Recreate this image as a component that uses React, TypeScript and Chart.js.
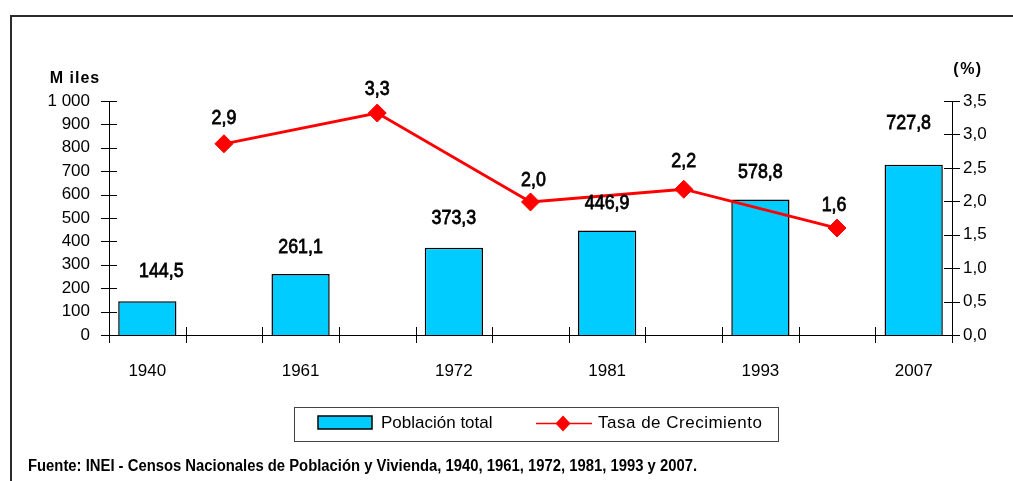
import React, { useEffect, useRef } from 'react';
import { Chart, registerables } from 'chart.js';

Chart.register(...registerables);

// ---- data ----
const years = ['1940', '1961', '1972', '1981', '1993', '2007'];
const population = [144.5, 261.1, 373.3, 446.9, 578.8, 727.8]; // miles
const growthRate = [2.86, 3.32, 1.99, 2.18, 1.6]; // % intercensal
const seriesNames = ['Población total', 'Tasa de Crecimiento'];
const leftTitle = 'M iles';
const rightTitle = '(%)';
const footer = 'Fuente: INEI - Censos Nacionales de Población y Vivienda, 1940, 1961, 1972, 1981, 1993 y 2007.';

// slots: census years with intercensal gaps between them
const slots: string[] = [];
years.forEach((y, i) => {
  slots.push(y);
  if (i < years.length - 1) slots.push('');
});
const barData = slots.map((_, i) => (i % 2 === 0 ? population[i / 2] : null));
const lineData = slots.map((_, i) => (i % 2 === 1 ? growthRate[(i - 1) / 2] : null));

const FONT = "'Liberation Sans', Arial, sans-serif";
const BAR_COLOR = '#00CCFF';
const LINE_COLOR = '#FF0000';

// label placement tweaks (pixels)
const barLabelShift: [number, number][] = [[14, -30], [0, -27], [0, -29], [0, -27], [0, -27], [-5, -41]];
const lineLabelShift: [number, number][] = [[0, -26], [0, -24], [3, -22], [0, -28], [-3, -23]];

const fmtComma = (v: number) => v.toFixed(1).replace('.', ',');
const fmtThousands = (v: number) => String(v).replace(/\B(?=(\d{3})+(?!\d))/g, ' ');

function drawNarrow(ctx: CanvasRenderingContext2D, text: string, x: number, y: number, font: string, sx: number) {
  ctx.save();
  ctx.font = font;
  ctx.textAlign = 'center';
  ctx.textBaseline = 'middle';
  ctx.translate(x, y);
  ctx.scale(sx, 1);
  ctx.fillText(text, 0, 0);
  ctx.strokeStyle = '#000';
  ctx.lineWidth = 0.8;
  ctx.strokeText(text, 0, 0);
  ctx.restore();
}

const decor = {
  id: 'decor',
  beforeDraw(chart: any) {
    const { ctx, width, height } = chart;
    ctx.save();
    ctx.fillStyle = '#fff';
    ctx.fillRect(0, 0, width, height);
    ctx.restore();
  },
  afterDraw(chart: any) {
    const { ctx, chartArea } = chart;
    const yl = chart.scales.y;
    const yr = chart.scales.y1;
    const { left, right, bottom } = chartArea;
    ctx.save();
    // frame
    ctx.fillStyle = '#2b2b2b';
    ctx.fillRect(10, 15, 1003, 2);
    ctx.fillRect(10, 15, 2, 466);

    // crossing tick marks
    ctx.strokeStyle = '#000';
    ctx.lineWidth = 1;
    ctx.beginPath();
    yl.ticks.forEach((_: any, i: number) => {
      const py = Math.round(yl.getPixelForTick(i)) + 0.5;
      ctx.moveTo(left - 8, py);
      ctx.lineTo(left + 8, py);
    });
    yr.ticks.forEach((_: any, i: number) => {
      const py = Math.round(yr.getPixelForTick(i)) + 0.5;
      ctx.moveTo(right - 8, py);
      ctx.lineTo(right + 8, py);
    });
    const n = slots.length;
    for (let k = 0; k <= n; k++) {
      const px = Math.round(left + ((right - left) * k) / n) + 0.5;
      ctx.moveTo(px, bottom - 8);
      ctx.lineTo(px, bottom + 8);
    }
    ctx.stroke();

    // data labels
    ctx.fillStyle = '#000';
    const barMeta = chart.getDatasetMeta(1);
    let b = 0;
    barData.forEach((v, i) => {
      if (v == null) return;
      const el = barMeta.data[i];
      const [dx, dy] = barLabelShift[b++];
      drawNarrow(ctx, fmtComma(v), el.x + dx, el.y + dy, `21px ${FONT}`, 0.85);
    });
    const lineMeta = chart.getDatasetMeta(0);
    let l = 0;
    lineData.forEach((v, i) => {
      if (v == null) return;
      const el = lineMeta.data[i];
      const [dx, dy] = lineLabelShift[l++];
      drawNarrow(ctx, fmtComma(v), el.x + dx, el.y + dy, `21px ${FONT}`, 0.85);
    });

    // axis titles
    ctx.font = `bold 16px ${FONT}`;
    ctx.textAlign = 'center';
    ctx.textBaseline = 'middle';
    (ctx as any).letterSpacing = '1px';
    ctx.fillText(leftTitle, 75, 79);
    (ctx as any).letterSpacing = '1.5px';
    ctx.fillText(rightTitle, 968, 70);
    (ctx as any).letterSpacing = '0px';

    // legend
    ctx.strokeStyle = '#444';
    ctx.lineWidth = 1;
    ctx.strokeRect(294.5, 407.5, 484, 34);
    ctx.fillStyle = BAR_COLOR;
    ctx.fillRect(318, 416, 54, 13);
    ctx.strokeStyle = '#000';
    ctx.lineWidth = 1.5;
    ctx.strokeRect(318, 416, 54, 13);
    ctx.fillStyle = '#000';
    ctx.font = `17px ${FONT}`;
    ctx.textAlign = 'left';
    ctx.fillText(seriesNames[0], 381, 423);
    ctx.strokeStyle = LINE_COLOR;
    ctx.lineWidth = 1.5;
    ctx.beginPath();
    ctx.moveTo(536, 423.5);
    ctx.lineTo(592, 423.5);
    ctx.stroke();
    ctx.fillStyle = LINE_COLOR;
    ctx.beginPath();
    ctx.moveTo(563 - 7.5, 423.5);
    ctx.lineTo(563, 423.5 - 8);
    ctx.lineTo(563 + 7.5, 423.5);
    ctx.lineTo(563, 423.5 + 8);
    ctx.closePath();
    ctx.fill();
    ctx.fillStyle = '#000';
    (ctx as any).letterSpacing = '0.5px';
    ctx.fillText(seriesNames[1], 598, 423);
    (ctx as any).letterSpacing = '0px';

    // footer
    ctx.font = `bold 16px ${FONT}`;
    ctx.textBaseline = 'alphabetic';
    ctx.fillText(footer, 28, 471, 669);
    ctx.restore();
  },
};

export default function App() {
  const ref = useRef<HTMLCanvasElement>(null);
  useEffect(() => {
    const chart = new Chart(ref.current as HTMLCanvasElement, {
      type: 'bar',
      data: {
        labels: slots,
        datasets: [
          {
            type: 'line',
            label: seriesNames[1],
            data: lineData,
            yAxisID: 'y1',
            borderColor: LINE_COLOR,
            backgroundColor: LINE_COLOR,
            borderWidth: 2.8,
            pointStyle: 'rectRot',
            pointRadius: 9,
            pointBorderWidth: 1,
            pointBackgroundColor: LINE_COLOR,
            pointBorderColor: LINE_COLOR,
            spanGaps: true,
            tension: 0,
            order: 0,
          } as any,
          {
            type: 'bar',
            label: seriesNames[0],
            data: barData,
            yAxisID: 'y',
            backgroundColor: BAR_COLOR,
            borderColor: '#000',
            borderWidth: 1.5,
            categoryPercentage: 1,
            barPercentage: 0.76,
            order: 1,
          } as any,
        ],
      },
      options: {
        responsive: false,
        devicePixelRatio: 1,
        animation: false,
        layout: { padding: { top: 101, left: 0, right: 0, bottom: 0 } },
        plugins: {
          legend: { display: false },
          tooltip: { enabled: false },
        },
        scales: {
          x: {
            type: 'category',
            offset: true,
            grid: { display: false, offset: true },
            border: { display: true, color: '#000', width: 1 },
            ticks: {
              font: { family: FONT, size: 17 },
              color: '#000',
              padding: 18,
              maxRotation: 0,
              autoSkip: false,
            },
            afterFit: (s: any) => {
              s.height = 146;
            },
          },
          y: {
            position: 'left',
            min: 0,
            max: 1000,
            grid: { display: false },
            border: { display: true, color: '#000', width: 1 },
            ticks: {
              stepSize: 100,
              font: { family: FONT, size: 17 },
              color: '#000',
              padding: 11,
              callback: (v: any) => fmtThousands(Number(v)),
            },
            afterFit: (s: any) => {
              s.width = 109;
            },
          },
          y1: {
            position: 'right',
            min: 0,
            max: 3.5,
            grid: { display: false },
            border: { display: true, color: '#000', width: 1 },
            ticks: {
              stepSize: 0.5,
              font: { family: FONT, size: 17 },
              color: '#000',
              padding: 3,
              callback: (v: any) => fmtComma(Number(v)),
            },
            afterFit: (s: any) => {
              s.width = 61;
            },
          },
        },
      } as any,
      plugins: [decor],
    });
    return () => chart.destroy();
  }, []);
  return (
    <div style={{ position: 'absolute', left: 0, top: 0, width: 1013, height: 481 }}>
      <canvas ref={ref} width={1013} height={481} style={{ display: 'block', width: 1013, height: 481 }} />
    </div>
  );
}
